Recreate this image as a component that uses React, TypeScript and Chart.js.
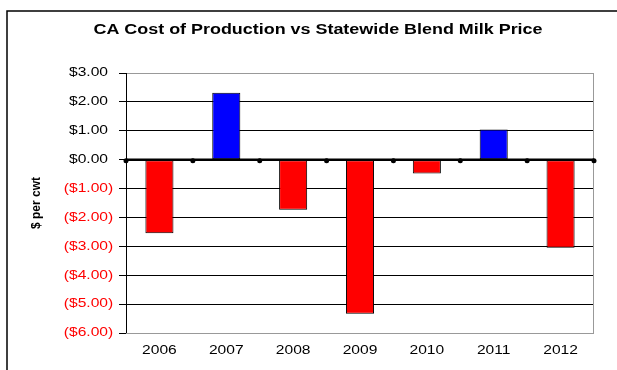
import React, { useEffect, useRef } from "react";
import { Chart, registerables } from "chart.js";
Chart.register(...registerables);

const TITLE = "CA Cost of Production vs Statewide Blend Milk Price";
const Y_TITLE = "$ per cwt";
const years = ["2006", "2007", "2008", "2009", "2010", "2011", "2012"];
const diffValues = [-2.55, 2.32, -1.73, -5.33, -0.48, 1.04, -3.05];
const yMin = -6;
const yMax = 3;

const FONT = "'Liberation Sans', Arial, sans-serif";
const SX = 1.3;

function stretchText(ctx: any, text: string, x: number, y: number, align: string, sx: number) {
  ctx.save();
  ctx.translate(x, y);
  ctx.scale(sx, 1);
  ctx.textAlign = align;
  ctx.textBaseline = "middle";
  ctx.fillText(text, 0, 0);
  ctx.restore();
}

const decor = {
  id: "decor",
  beforeDraw(chart: any) {
    const ctx = chart.ctx;
    ctx.save();
    ctx.fillStyle = "#fff";
    ctx.fillRect(0, 0, chart.width, chart.height);
    // outer frame
    ctx.strokeStyle = "#000";
    ctx.lineWidth = 1.5;
    ctx.beginPath();
    ctx.moveTo(7, chart.height + 2);
    ctx.lineTo(7, 11);
    ctx.lineTo(chart.width + 2, 11);
    ctx.stroke();
    // title
    ctx.fillStyle = "#000";
    ctx.font = "bold 14px " + FONT;
    stretchText(ctx, TITLE, 318, 30, "center", 1.28);
    // y title
    ctx.save();
    ctx.translate(37, (chart.chartArea.top + chart.chartArea.bottom) / 2);
    ctx.rotate(-Math.PI / 2);
    ctx.font = "bold 12px " + FONT;
    ctx.textAlign = "center";
    ctx.textBaseline = "middle";
    ctx.fillText(Y_TITLE, 0, 0);
    ctx.restore();
    ctx.restore();
  },
  afterDatasetsDraw(chart: any) {
    const ctx = chart.ctx;
    const { left, right, top, bottom } = chart.chartArea;
    const ys = chart.scales.y;
    const xs = chart.scales.x;
    ctx.save();
    ctx.strokeStyle = "#999";
    ctx.lineWidth = 1;
    ctx.strokeRect(left + 0.5, top + 0.5, right - left - 1, bottom - top);
    ctx.strokeStyle = "#000";
    ctx.beginPath();
    ctx.moveTo(left + 0.5, top);
    ctx.lineTo(left + 0.5, bottom);
    ctx.stroke();
    const y0 = ys.getPixelForValue(0);
    ctx.lineWidth = 2.5;
    ctx.beginPath();
    ctx.moveTo(left, y0);
    ctx.lineTo(right, y0);
    ctx.stroke();
    const n = years.length;
    ctx.fillStyle = "#000";
    for (let i = 0; i <= n; i++) {
      const x = left + ((right - left) * i) / n;
      ctx.beginPath();
      ctx.arc(x, y0 + 1, 2.5, 0, Math.PI * 2);
      ctx.fill();
    }
    // y tick labels
    ctx.font = "12px " + FONT;
    ys.ticks.forEach((t: any) => {
      const v = t.value;
      const y = ys.getPixelForValue(v);
      const s = "$" + Math.abs(v).toFixed(2);
      if (v < 0) {
        ctx.fillStyle = "#ff0000";
        stretchText(ctx, "(" + s, 108, y, "right", SX);
        stretchText(ctx, ")", 108, y, "left", SX);
      } else {
        ctx.fillStyle = "#000";
        stretchText(ctx, s, 108, y, "right", SX);
      }
    });
    // x tick labels
    ctx.fillStyle = "#000";
    years.forEach((lab, i) => {
      stretchText(ctx, lab, xs.getPixelForValue(i), 351, "center", SX);
    });
    ctx.restore();
  },
};

export default function App() {
  const ref = useRef<HTMLCanvasElement>(null);
  useEffect(() => {
    document.body.style.margin = "0";
    const chart = new Chart(ref.current!, {
      type: "bar",
      data: {
        labels: years,
        datasets: [
          {
            data: diffValues,
            backgroundColor: diffValues.map((v) => (v < 0 ? "#ff0000" : "#0000ff")),
            borderColor: "#000",
            borderWidth: 1,
            borderSkipped: false,
            barPercentage: 1,
            categoryPercentage: 0.42,
          },
        ],
      },
      options: {
        animation: false,
        responsive: false,
        maintainAspectRatio: false,
        layout: { padding: { top: 73, right: 23, left: 0, bottom: 0 } },
        plugins: { legend: { display: false }, title: { display: false }, tooltip: { enabled: false } },
        scales: {
          x: {
            grid: { display: false, drawTicks: false },
            border: { display: false },
            ticks: { display: false },
            afterFit: (s: any) => {
              s.height = 37;
            },
          },
          y: {
            min: yMin,
            max: yMax,
            grid: { color: "#000", lineWidth: 1, tickLength: 7, tickColor: "#000" },
            border: { display: false },
            ticks: { stepSize: 1, display: false },
            afterFit: (s: any) => {
              s.width = 126;
            },
          },
        },
      },
      plugins: [decor],
    });
    return () => chart.destroy();
  }, []);
  return (
    <div style={{ width: 617, height: 370 }}>
      <canvas ref={ref} width={617} height={370} style={{ display: "block" }} />
    </div>
  );
}
